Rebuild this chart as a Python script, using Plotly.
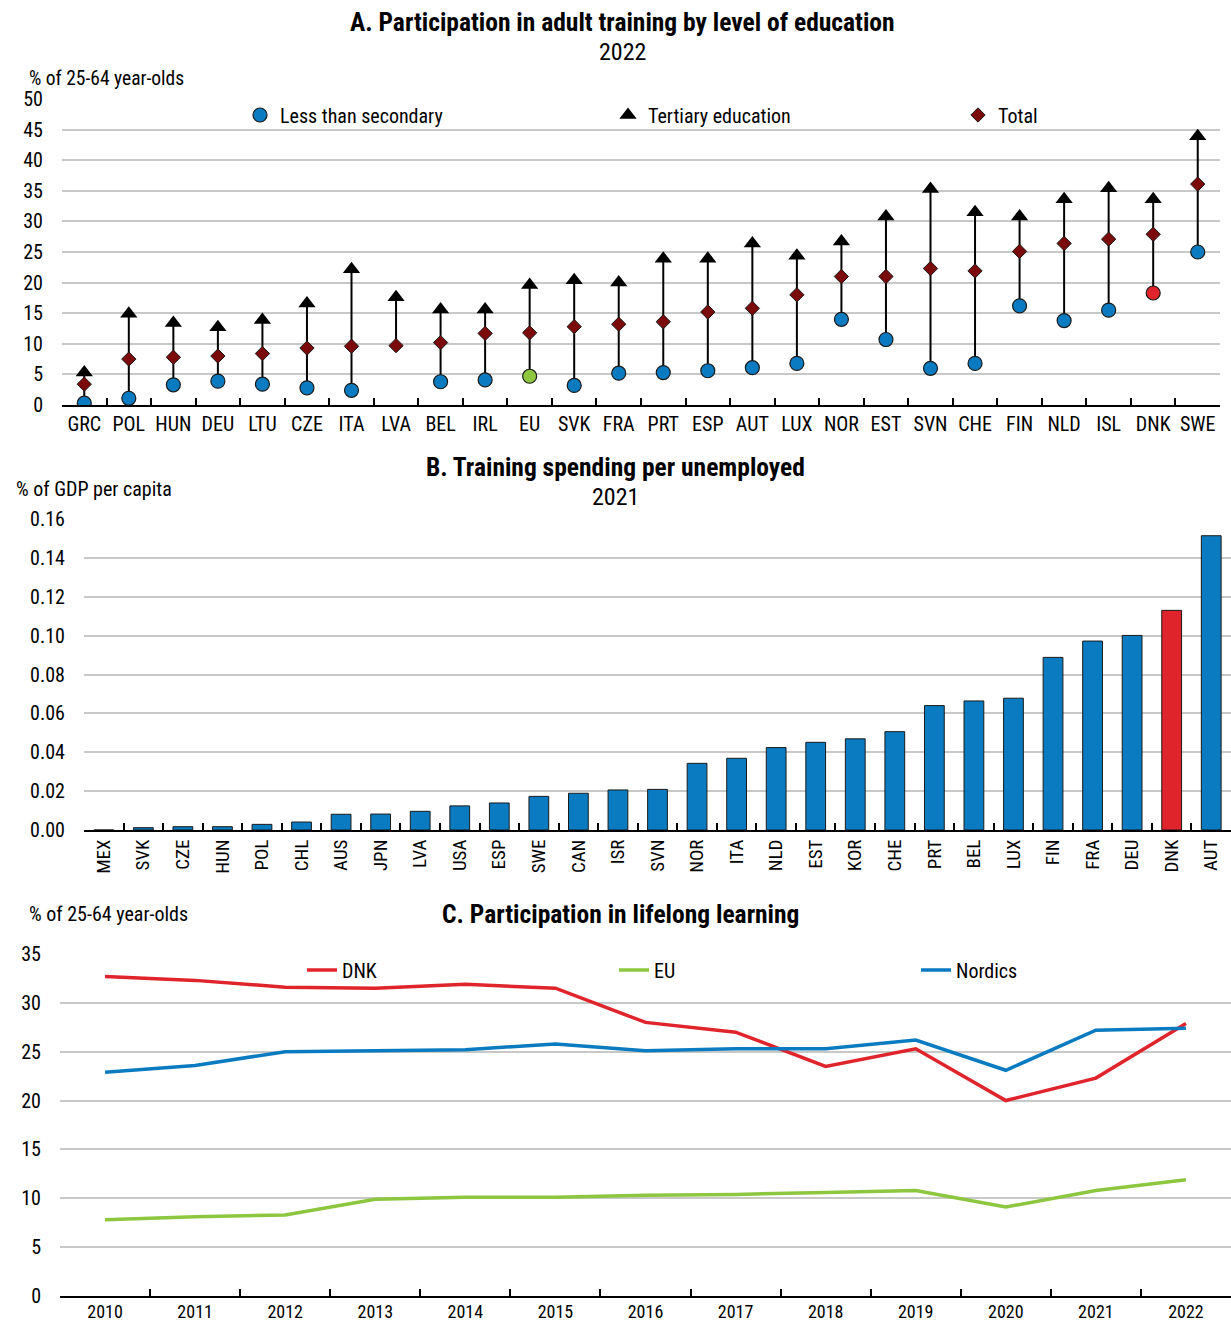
import plotly.graph_objects as go

# ---------------- Data ----------------
# Panel A: Participation in adult training by level of education, 2022
a_countries = ["GRC", "POL", "HUN", "DEU", "LTU", "CZE", "ITA", "LVA", "BEL", "IRL", "EU", "SVK", "FRA",
               "PRT", "ESP", "AUT", "LUX", "NOR", "EST", "SVN", "CHE", "FIN", "NLD", "ISL", "DNK", "SWE"]
a_less_secondary = [0.3, 1.1, 3.3, 3.9, 3.4, 2.8, 2.4, None, 3.8, 4.1, 4.7, 3.2, 5.2,
                    5.3, 5.6, 6.1, 6.8, 14.0, 10.7, 6.0, 6.8, 16.2, 13.8, 15.5, 18.3, 25.0]
a_tertiary = [5.3, 14.9, 13.4, 12.7, 13.9, 16.6, 22.2, 17.6, 15.6, 15.6, 19.6, 20.4, 20.0,
              23.9, 23.9, 26.4, 24.4, 26.7, 30.8, 35.3, 31.5, 30.8, 33.6, 35.4, 33.6, 43.9]
a_total = [3.4, 7.5, 7.8, 8.0, 8.4, 9.3, 9.6, 9.7, 10.2, 11.7, 11.8, 12.8, 13.2,
           13.6, 15.2, 15.8, 18.0, 21.0, 21.0, 22.3, 21.9, 25.1, 26.4, 27.1, 27.9, 36.1]

# Panel B: Training spending per unemployed, 2021 (% of GDP per capita)
b_countries = ["MEX", "SVK", "CZE", "HUN", "POL", "CHL", "AUS", "JPN", "LVA", "USA", "ESP", "SWE", "CAN",
               "ISR", "SVN", "NOR", "ITA", "NLD", "EST", "KOR", "CHE", "PRT", "BEL", "LUX", "FIN", "FRA",
               "DEU", "DNK", "AUT"]
b_values = [0.0, 0.0012, 0.0017, 0.0017, 0.0029, 0.0041, 0.0081, 0.0082, 0.0096, 0.0124, 0.0139, 0.0173,
            0.0189, 0.0206, 0.0209, 0.0343, 0.0369, 0.0424, 0.0451, 0.0469, 0.0506, 0.0640, 0.0664, 0.0678,
            0.0888, 0.0972, 0.1001, 0.1130, 0.1514]

# Panel C: Participation in lifelong learning (% of 25-64 year-olds)
c_years = ["2010", "2011", "2012", "2013", "2014", "2015", "2016", "2017", "2018", "2019", "2020", "2021", "2022"]
c_dnk = [32.7, 32.3, 31.6, 31.5, 31.9, 31.5, 28.0, 27.0, 23.5, 25.3, 20.0, 22.3, 27.9]
c_eu = [7.8, 8.1, 8.3, 9.9, 10.1, 10.1, 10.3, 10.4, 10.6, 10.8, 9.1, 10.8, 11.9]
c_nordics = [22.9, 23.6, 25.0, 25.1, 25.2, 25.8, 25.1, 25.3, 25.3, 26.2, 23.1, 27.2, 27.4]

# ---------------- Style ----------------
W, H = 1231, 1324
FONT = "Liberation Sans Narrow, Arial Narrow, Roboto Condensed, Liberation Sans, Arial, sans-serif"
BLUE = "#0B7BC1"
RED = "#E0242B"
GREEN = "#8DC63F"
DARKRED = "#7B0A0A"
GRID = "#C8C8C8"


def px_x(x):
    return x / W


def px_y(y):
    return 1 - y / H


fig = go.Figure()

# ---- Panel A ----
seg_x, seg_y = [], []
for c, lo, hi, tot in zip(a_countries, a_less_secondary, a_tertiary, a_total):
    vals = [v for v in (lo, hi, tot) if v is not None]
    seg_x += [c, c, None]
    seg_y += [min(vals), max(vals), None]

fig.add_trace(go.Scatter(x=seg_x, y=seg_y, mode="lines", line=dict(color="black", width=2),
                         showlegend=False, hoverinfo="skip", xaxis="x", yaxis="y"))

circle_colors = [GREEN if c == "EU" else RED if c == "DNK" else BLUE for c in a_countries]
fig.add_trace(go.Scatter(x=a_countries, y=a_less_secondary, mode="markers", name="Less than secondary",
                         marker=dict(symbol="circle", size=14, color=circle_colors,
                                     line=dict(color="#1a1a1a", width=1.2)),
                         xaxis="x", yaxis="y", legend="legend"))
fig.add_trace(go.Scatter(x=a_countries, y=a_total, mode="markers", name="Total",
                         marker=dict(symbol="diamond", size=11, color=DARKRED,
                                     line=dict(color="#1a1a1a", width=1)),
                         xaxis="x", yaxis="y", legend="legend3"))
fig.add_trace(go.Scatter(x=a_countries, y=a_tertiary, mode="markers", name="Tertiary education",
                         marker=dict(symbol="triangle-up", size=15, color="black",
                                     line=dict(color="black", width=0)),
                         xaxis="x", yaxis="y", legend="legend2"))

# ---- Panel B ----
bar_colors = [RED if c == "DNK" else BLUE for c in b_countries]
fig.add_trace(go.Bar(x=b_countries, y=b_values, marker=dict(color=bar_colors, line=dict(color="#1a1a1a", width=1)),
                     showlegend=False, xaxis="x2", yaxis="y2"))

# ---- Panel C ----
fig.add_trace(go.Scatter(x=c_years, y=c_dnk, mode="lines", name="DNK", line=dict(color=RED, width=3.5),
                         xaxis="x3", yaxis="y3", legend="legend4"))
fig.add_trace(go.Scatter(x=c_years, y=c_eu, mode="lines", name="EU", line=dict(color=GREEN, width=3.5),
                         xaxis="x3", yaxis="y3", legend="legend5"))
fig.add_trace(go.Scatter(x=c_years, y=c_nordics, mode="lines", name="Nordics", line=dict(color=BLUE, width=3.5),
                         xaxis="x3", yaxis="y3", legend="legend6"))

tickfont = dict(family=FONT, size=20, color="black")

cat_axis = dict(type="category", showline=True, linecolor="black", linewidth=2, ticks="inside",
                ticklen=7, tickwidth=2, tickcolor="black", tickson="boundaries", showgrid=False,
                tickfont=tickfont, zeroline=False, fixedrange=True, automargin=False)
val_axis = dict(showgrid=True, gridcolor=GRID, gridwidth=2, zeroline=False, showline=False,
                ticks="", tickfont=tickfont, fixedrange=True, automargin=False, ticklabelstandoff=18)

legend_base = dict(orientation="h", bgcolor="rgba(0,0,0,0)", borderwidth=0,
                   font=dict(family=FONT, size=20, color="black"), xanchor="left", yanchor="middle",
                   itemclick=False, itemdoubleclick=False)

fig.update_layout(
    width=W, height=H,
    margin=dict(l=0, r=0, t=0, b=0, autoexpand=False),
    paper_bgcolor="white", plot_bgcolor="white",
    font=dict(family=FONT, size=20, color="black"),
    bargap=0.5,
    xaxis=dict(cat_axis, domain=[px_x(62), px_x(1220)], range=[-0.5, len(a_countries) - 0.5], anchor="y",
               tickangle=0),
    yaxis=dict(val_axis, domain=[px_y(405), px_y(99)], range=[0, 50], dtick=5, anchor="x"),
    xaxis2=dict(cat_axis, domain=[px_x(84), 1.0], range=[-0.5, len(b_countries) - 0.5], anchor="y2",
                tickangle=-90, tickfont=dict(family=FONT, size=19, color="black")),
    yaxis2=dict(val_axis, domain=[px_y(830), px_y(519)], range=[0, 0.16], dtick=0.02, tickformat=".2f",
                anchor="x2"),
    xaxis3=dict(cat_axis, domain=[px_x(60), 1.0], range=[-0.5, len(c_years) - 0.5], anchor="y3",
                tickangle=0, tickfont=dict(family=FONT, size=18, color="black"), ticklabelstandoff=-2),
    yaxis3=dict(val_axis, domain=[px_y(1296), px_y(954)], range=[0, 35], dtick=5, anchor="x3"),
    legend=dict(legend_base, x=px_x(240), y=px_y(115)),
    legend2=dict(legend_base, x=px_x(608), y=px_y(115)),
    legend3=dict(legend_base, x=px_x(958), y=px_y(115)),
    legend4=dict(legend_base, x=px_x(302), y=px_y(970)),
    legend5=dict(legend_base, x=px_x(614), y=px_y(970)),
    legend6=dict(legend_base, x=px_x(916), y=px_y(970)),
    showlegend=True,
)

annotations = [
    dict(text="<b>A. Participation in adult training by level of education</b>", x=px_x(622), y=px_y(22),
         font=dict(size=25.5)),
    dict(text="2022", x=px_x(622), y=px_y(52), font=dict(size=24)),
    dict(text="% of 25-64 year-olds", x=px_x(27), y=px_y(78), xanchor="left", font=dict(size=19.5)),
    dict(text="<b>B. Training spending per unemployed</b>", x=px_x(615), y=px_y(467), font=dict(size=25.5)),
    dict(text="2021", x=px_x(615), y=px_y(497), font=dict(size=24)),
    dict(text="% of GDP per capita", x=px_x(14), y=px_y(489), xanchor="left", font=dict(size=20)),
    dict(text="<b>C. Participation in lifelong learning</b>", x=px_x(620), y=px_y(914), font=dict(size=25.5)),
    dict(text="% of 25-64 year-olds", x=px_x(27), y=px_y(914), xanchor="left", font=dict(size=20)),
]
for a in annotations:
    a.setdefault("xanchor", "center")
    a.update(xref="paper", yref="paper", yanchor="middle", showarrow=False)
    a["font"] = dict(family=FONT, color="black", **a["font"])
fig.update_layout(annotations=annotations)

fig.write_html("out.html", config={"displayModeBar": False},
               post_script="document.body.style.margin='0';")
